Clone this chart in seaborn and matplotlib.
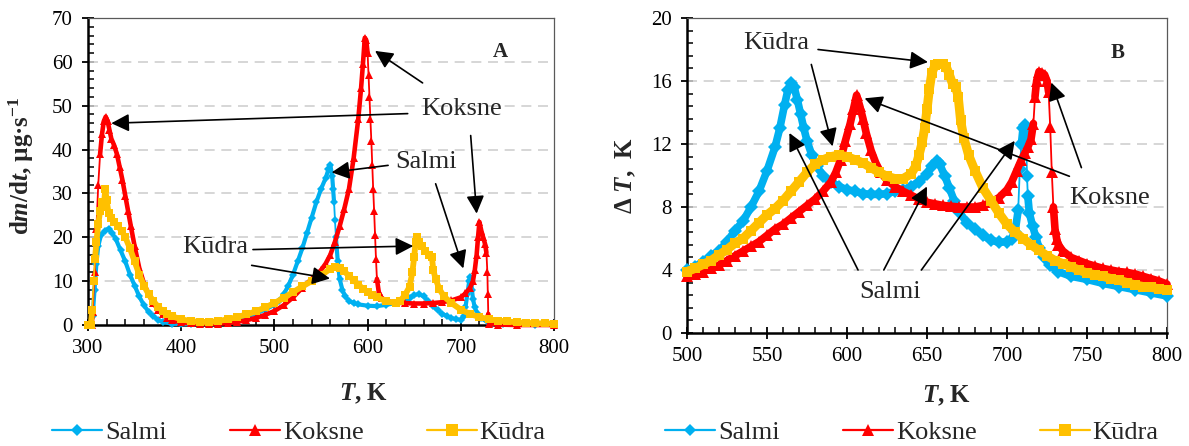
import numpy as np
import matplotlib
matplotlib.use("Agg")
import matplotlib.pyplot as plt
from matplotlib.lines import Line2D
from matplotlib.ticker import MultipleLocator
from matplotlib.font_manager import FontProperties
import seaborn as sns

# ---------------- data: panel A (dm/dt, ug/s) ----------------
salmi_A_T = [300, 303, 305, 307, 309, 311, 314, 318, 322, 326, 330, 335, 340, 345, 350, 355, 360, 365, 370, 375,
             380, 390, 400, 410, 420, 430, 440, 450, 460, 470, 480, 490, 500, 505, 510, 515, 520, 525, 530, 535,
             540, 545, 550, 555, 558, 560, 562, 563, 564, 565, 566, 568, 570, 573, 576, 580, 585, 590, 600, 610,
             620, 630, 640, 645, 650, 655, 660, 665, 670, 675, 680, 685, 690, 695, 700, 703, 705, 707, 709, 710,
             711, 712, 713, 715, 718, 722, 728, 735, 745, 760, 780, 800]
salmi_A_v = [0, 0, 2, 8, 14, 18, 20.5, 21.5, 22, 21, 19.5, 17, 14.5, 11.5, 9, 6.5, 4.5, 3, 2, 1.2,
             0.7, 0.3, 0.2, 0.2, 0.3, 0.4, 0.6, 0.9, 1.3, 1.9, 2.6, 3.5, 4.6, 5.5, 7, 9, 11.5, 14.5, 17.5, 21,
             24.5, 28, 31, 33.5, 35.5, 36.5, 34, 31, 28, 24, 20, 14.5, 10.5, 8, 6.5, 5.5, 5, 4.7, 4.4, 4.3,
             4.6, 5, 5.5, 6.2, 6.8, 7.1, 6.5, 5.5, 4.3, 3.4, 2.6, 2, 1.6, 1.3, 1.2, 2, 4, 7, 10, 11,
             10, 8, 6, 4, 2.5, 1.5, 0.8, 0.4, 0.2, 0.1, 0.05, 0]

koksne_A_T = [300, 304, 305, 307, 309, 311, 313, 315, 317, 319, 321, 323, 325, 328, 331, 334, 337, 340, 343, 346,
              350, 355, 360, 365, 370, 375, 380, 385, 390, 400, 410, 420, 430, 440, 450, 460, 470, 480, 490, 500,
              510, 520, 530, 540, 550, 555, 560, 565, 570, 575, 580, 585, 590, 593, 595, 597, 598.5, 600, 601, 602,
              603, 604, 605, 606, 607, 608, 609, 610, 612, 615, 620, 630, 640, 650, 660, 670, 680, 690, 700, 705,
              710, 713, 715, 717, 718.5, 720, 722, 724, 726, 727.5, 728.5, 729, 729.5, 730.5, 740, 760, 800]
koksne_A_v = [0, 0, 3, 12, 22, 32, 39, 43.5, 46.5, 47.5, 46.5, 44.5, 42.5, 41, 39, 36, 33, 29.5, 26, 22.5,
              18, 13, 9.5, 7, 5, 3.5, 2.4, 1.6, 1.1, 0.6, 0.35, 0.25, 0.25, 0.3, 0.45, 0.7, 1.1, 1.6, 2.3, 3.2,
              4.5, 6.3, 8.5, 10.5, 12.5, 14, 16, 19, 22.5, 26.5, 31, 38, 47, 54, 59.5, 65.5, 65, 62, 57, 52,
              47, 42, 36.5, 31, 26, 20.5, 15, 10.5, 7.5, 6.2, 5.5, 5.1, 5, 4.9, 4.9, 5, 5.2, 5.6, 6.3, 7.2,
              8.5, 10, 12.5, 16, 20, 23.5, 21.5, 20, 18.5, 16.5, 12, 7, 2.5, 0.3, 0.1, 0, 0]

kudra_A_T = [300, 303, 304.5, 306, 307.5, 309, 311, 313, 315, 317, 318.5, 320, 322, 325, 328, 332, 336, 340, 345, 350,
             355, 360, 365, 370, 375, 380, 385, 390, 400, 410, 420, 430, 440, 450, 460, 470, 480, 490, 500, 510,
             520, 530, 540, 550, 560, 565, 570, 575, 580, 585, 590, 595, 600, 605, 610, 620, 630, 635, 640, 645,
             648, 650, 651.5, 653, 655, 658, 662, 666, 669, 670.5, 673, 677, 682, 690, 700, 710, 720, 730, 740, 750,
             760, 770, 780, 790, 800]
kudra_A_v = [0, 0, 3.5, 10, 15, 19, 23, 26, 28, 27, 31, 28.5, 25.5, 24.5, 23.5, 22.5, 21.5, 20, 17.5, 14.5,
             11.5, 9, 7, 5.5, 4.2, 3.2, 2.5, 2, 1.3, 0.9, 0.7, 0.7, 0.9, 1.3, 1.8, 2.4, 3.1, 4, 5, 6.2,
             7.5, 8.8, 10, 11.3, 12.8, 13.3, 13, 12.2, 11.2, 10.2, 9.2, 8.3, 7.5, 6.8, 6.3, 5.4, 5, 5.5, 6.8, 8.7,
             12, 15.5, 19, 20, 19, 18, 16.8, 16, 15.5, 12.5, 10.5, 8.2, 6.5, 5, 3.5, 2.5, 1.8, 1.3, 1, 0.8,
             0.6, 0.5, 0.4, 0.35, 0.3]

# ---------------- data: panel B (Delta T, K) ----------------
salmi_B_T = [500, 505, 510, 515, 520, 525, 530, 535, 540, 545, 550, 555, 558, 561, 563, 565, 567, 569, 571, 573,
             575, 578, 581, 585, 590, 595, 600, 605, 610, 615, 620, 625, 630, 635, 640, 645, 650, 653, 656, 658,
             661, 664, 667, 670, 675, 680, 685, 690, 695, 700, 703, 705, 707, 708, 709, 710, 711, 712, 712.5, 713,
             714, 716, 718, 720, 723, 727, 732, 740, 750, 760, 770, 780, 790, 800]
salmi_B_v = [4.0, 4.2, 4.5, 4.9, 5.2, 5.8, 6.5, 7.1, 8.0, 9.0, 10.3, 11.8, 13.0, 14.5, 15.4, 15.9, 15.6, 14.8, 13.9, 13.0,
             12.2, 11.3, 10.6, 10.0, 9.6, 9.3, 9.1, 9.0, 8.85, 8.8, 8.8, 8.85, 9.0, 9.1, 9.3, 9.6, 10.1, 10.6, 10.9, 10.7,
             10.0, 9.2, 8.4, 7.7, 7.0, 6.6, 6.2, 5.9, 5.75, 5.8, 6.0, 6.4, 7.8, 10.4, 12.0, 13.0, 13.2, 12.2, 10.0, 8.7,
             7.6, 6.8, 6.1, 5.4, 4.8, 4.3, 3.9, 3.6, 3.4, 3.15, 2.95, 2.75, 2.55, 2.35]

koksne_B_T = [500, 505, 510, 515, 520, 525, 530, 535, 540, 545, 550, 555, 560, 565, 570, 575, 580, 585, 590, 593,
              596, 599, 602, 604, 606, 608, 610, 612, 615, 618, 621, 625, 630, 635, 640, 645, 650, 655, 660, 665,
              670, 675, 680, 685, 690, 695, 700, 703, 706, 709, 711, 713, 715, 716.5, 717.5, 718.5, 720, 722, 723.5, 725,
              726, 727, 728, 729, 730, 731, 732, 735, 740, 745, 750, 755, 760, 765, 770, 775, 780, 785, 790, 795,
              800]
koksne_B_v = [3.6, 3.75, 3.9, 4.1, 4.3, 4.6, 4.9, 5.2, 5.5, 5.8, 6.2, 6.6, 6.9, 7.3, 7.7, 8.1, 8.5, 9.0, 9.6, 10.2,
              11.0, 12.2, 13.3, 14.2, 15.1, 14.4, 13.6, 12.7, 11.6, 10.8, 10.2, 9.7, 9.3, 9.0, 8.75, 8.5, 8.3, 8.2, 8.1, 8.05,
              8.0, 8.0, 8.0, 8.1, 8.3, 8.6, 9.1, 9.6, 10.3, 11.0, 11.4, 11.8, 12.3, 13.3, 15.0, 16.0, 16.6, 16.5, 16.4, 16.0,
              15.3, 13.1, 10.2, 8.0, 6.6, 6.0, 5.6, 5.2, 4.8, 4.6, 4.4, 4.25, 4.1, 4.0, 3.9, 3.85, 3.75, 3.6, 3.45, 3.3,
              3.1]

kudra_B_T = [500, 505, 510, 515, 520, 525, 530, 535, 540, 545, 550, 555, 560, 565, 570, 575, 580, 585, 590, 595,
             600, 605, 610, 615, 620, 625, 630, 635, 640, 643, 645, 647, 648.5, 650, 651.5, 653, 655, 657, 660, 662,
             664, 666, 668, 669.5, 671, 673, 676, 680, 685, 690, 695, 700, 705, 710, 715, 720, 725, 730, 735, 740,
             745, 750, 755, 760, 765, 770, 775, 780, 785, 790, 795, 800]
kudra_B_v = [3.9, 4.1, 4.35, 4.6, 4.95, 5.3, 5.7, 6.0, 6.5, 7.0, 7.5, 7.9, 8.4, 9.0, 9.6, 10.2, 10.7, 11.0, 11.2, 11.3,
             11.2, 11.0, 10.8, 10.5, 10.2, 9.95, 9.8, 9.8, 10.1, 10.6, 11.3, 12.1, 13.0, 14.2, 15.5, 16.5, 17.0, 17.1, 17.1, 16.9,
             16.4, 15.8, 15.6, 15.0, 13.5, 12.4, 11.3, 10.3, 9.2, 8.4, 7.6, 6.9, 6.4, 6.0, 5.6, 5.25, 4.9, 4.6, 4.4, 4.2,
             4.0, 3.8, 3.7, 3.6, 3.45, 3.35, 3.2, 3.05, 2.95, 2.9, 2.8, 2.7]

series_names = ["Salmi", "Koksne", "Kūdra"]

# ---------------- style ----------------
sns.set_theme(style="white")
SERIF = ["Liberation Serif", "DejaVu Serif"]
plt.rcParams["font.family"] = SERIF
plt.rcParams["mathtext.fontset"] = "custom"
plt.rcParams["mathtext.rm"] = "Liberation Serif:bold"
plt.rcParams["mathtext.it"] = "Liberation Serif:italic:bold"
plt.rcParams["mathtext.bf"] = "Liberation Serif:bold"

colors = {"Salmi": "#00B0F0", "Koksne": "#FF0000", "Kūdra": "#FFC000"}
markers = {"Salmi": "D", "Koksne": "^", "Kūdra": "s"}

fig = plt.figure(figsize=(11.89, 4.46), dpi=100)
axA = fig.add_axes([88 / 1189, 1 - 325 / 446, (554 - 88) / 1189, (325 - 18) / 446])
axB = fig.add_axes([687 / 1189, 1 - 333 / 446, (1167 - 687) / 1189, (333 - 18) / 446])

dataA = {"Salmi": (salmi_A_T, salmi_A_v), "Koksne": (koksne_A_T, koksne_A_v), "Kūdra": (kudra_A_T, kudra_A_v)}
dataB = {"Salmi": (salmi_B_T, salmi_B_v), "Koksne": (koksne_B_T, koksne_B_v), "Kūdra": (kudra_B_T, kudra_B_v)}

# (band width pt, marker size pt)
styleA = {"Salmi": (3.0, 4.5), "Koksne": (3.3, 6.0), "Kūdra": (4.2, 5.5)}
styleB = {"Salmi": (5.5, 7.0), "Koksne": (5.5, 8.0), "Kūdra": (6.5, 7.5)}

def band_path(T, v, k, thr=15.0):
    """Break the thick band where the drawn slope (pixels/pixel) is steep."""
    T = np.asarray(T, float)
    v = np.asarray(v, float)
    slope = np.abs(np.diff(v) / np.diff(T)) * k
    xs, ys = [T[0]], [v[0]]
    for i in range(1, len(T)):
        if slope[i - 1] > thr:
            xs.append(np.nan)
            ys.append(np.nan)
        xs.append(T[i])
        ys.append(v[i])
    return np.array(xs), np.array(ys)

for ax, data, sty, k in ((axA, dataA, styleA, 4.4 / 0.932), (axB, dataB, styleB, 15.75 / 1.6)):
    for z, name in enumerate(series_names):
        T, v = data[name]
        lw, ms = sty[name]
        bx, by = band_path(T, v, k)
        ax.plot(bx, by, color=colors[name], lw=lw, solid_capstyle="round", solid_joinstyle="round",
                clip_on=False, zorder=3 + z)
        sns.lineplot(x=np.asarray(T, float), y=np.asarray(v, float), ax=ax, color=colors[name],
                     marker=markers[name], markersize=ms, markeredgewidth=0, linewidth=1.3,
                     estimator=None, sort=False, clip_on=False, zorder=3 + z)

def style_axes(ax, xlim, ylim, xmaj, xmin, ymaj, ymin):
    ax.set_xlim(*xlim)
    ax.set_ylim(*ylim)
    ax.xaxis.set_major_locator(MultipleLocator(xmaj))
    ax.xaxis.set_minor_locator(MultipleLocator(xmin))
    ax.yaxis.set_major_locator(MultipleLocator(ymaj))
    ax.yaxis.set_minor_locator(MultipleLocator(ymin))
    ax.tick_params(axis="both", which="major", direction="inout", length=8, width=1.3,
                   labelsize=15, colors="black", pad=6)
    ax.tick_params(axis="both", which="minor", direction="in", length=4, width=1.1, colors="black")
    ax.tick_params(axis="x", which="both", bottom=True, top=False)
    ax.tick_params(axis="y", which="both", left=True, right=False)
    ax.tick_params(axis="y", which="major", pad=7)
    for lbl in ax.get_xticklabels() + ax.get_yticklabels():
        lbl.set_fontfamily(SERIF)
    for s in ("left", "bottom"):
        ax.spines[s].set_color("black")
        ax.spines[s].set_linewidth(1.8)
    for s in ("top", "right"):
        ax.spines[s].set_color("#595959")
        ax.spines[s].set_linewidth(0.9)
    ax.grid(False)
    for y in np.arange(ylim[0] + ymaj, ylim[1], ymaj):
        ax.axhline(y, color="#D0D0D0", lw=1.2, ls=(0, (6, 4)), zorder=1)

style_axes(axA, (300, 800), (0, 70), 100, 20, 10, 2)
style_axes(axB, (500, 800), (0, 20), 50, 10, 4, 0.8)

axA.set_xlabel("$T$, K", fontsize=18, fontweight="bold")
axB.set_xlabel("$T$, K", fontsize=18, fontweight="bold")
axA.set_ylabel("d$m$/d$t$, µg·s$^{-1}$", fontsize=18, fontweight="bold")
axB.set_ylabel("Δ $T$,  K", fontsize=18, fontweight="bold")
axA.xaxis.set_label_coords(0.592, -0.185)
axB.xaxis.set_label_coords(0.54, -0.16)
axA.yaxis.set_label_coords(-0.112, 0.52)
axB.yaxis.set_label_coords(-0.102, 0.50)

axA.text(0.884, 0.889, "A", transform=axA.transAxes, fontsize=15, fontweight="bold",
         ha="center", va="center")
axB.text(769, 17.8, "B", fontsize=15, fontweight="bold", ha="center", va="center")

arrow_kw = dict(arrowstyle="-|>,head_length=0.6,head_width=0.3", color="black", lw=1.2,
                mutation_scale=18, shrinkA=0, shrinkB=0)

def arrow(ax, start, tip):
    ax.annotate("", xy=tip, xytext=start, arrowprops=arrow_kw, zorder=10)

ANN = 19
# Panel A annotations
axA.text(701, 49.3, "Koksne", fontsize=ANN, ha="center", va="center")
arrow(axA, (643, 48.2), (325, 46))
arrow(axA, (659, 55.2), (608, 62.5))
arrow(axA, (710.6, 43.2), (717, 25.4))
axA.text(663, 37.1, "Salmi", fontsize=ANN, ha="center", va="center")
arrow(axA, (622, 36.4), (561.4, 34.8))
arrow(axA, (673, 32.2), (702.7, 12.9))
axA.text(436, 17.8, "Kūdra", fontsize=ANN, ha="center", va="center")
arrow(axA, (477, 17.2), (649, 18))
arrow(axA, (475.6, 13.6), (559.6, 10.6))

# Panel B annotations
axB.text(555.8, 18.4, "Kūdra", fontsize=ANN, ha="center", va="center")
arrow(axB, (581.9, 18.0), (650.6, 17.2))
arrow(axB, (577.7, 17.05), (591, 11.85))
axB.text(626.7, 2.6, "Salmi", fontsize=ANN, ha="center", va="center")
arrow(axB, (606.9, 4.0), (564, 12.7))
arrow(axB, (623, 4.0), (650, 9.3))
arrow(axB, (646.5, 4.0), (704.8, 12.2))
axB.text(764, 8.55, "Koksne", fontsize=ANN, ha="center", va="center")
arrow(axB, (739, 9.95), (611, 14.9))
arrow(axB, (746.5, 10.5), (727.7, 15.9))

handles = [Line2D([], [], color=colors[n], lw=1.6, marker=markers[n],
                  markersize={"Salmi": 6, "Koksne": 8, "Kūdra": 8}[n], markeredgewidth=0)
           for n in series_names]
legend_font = FontProperties(family=SERIF, size=19)
for ax, cx in ((axA, 299 / 1189), (axB, 912 / 1189)):
    ax.legend(handles, series_names, loc="center", bbox_to_anchor=(cx, 1 - 432 / 446),
              bbox_transform=fig.transFigure, ncol=3, frameon=False, prop=legend_font,
              handlelength=1.9, handletextpad=0.1, columnspacing=2.4, borderaxespad=0)

fig.savefig("out.png", dpi=100)
